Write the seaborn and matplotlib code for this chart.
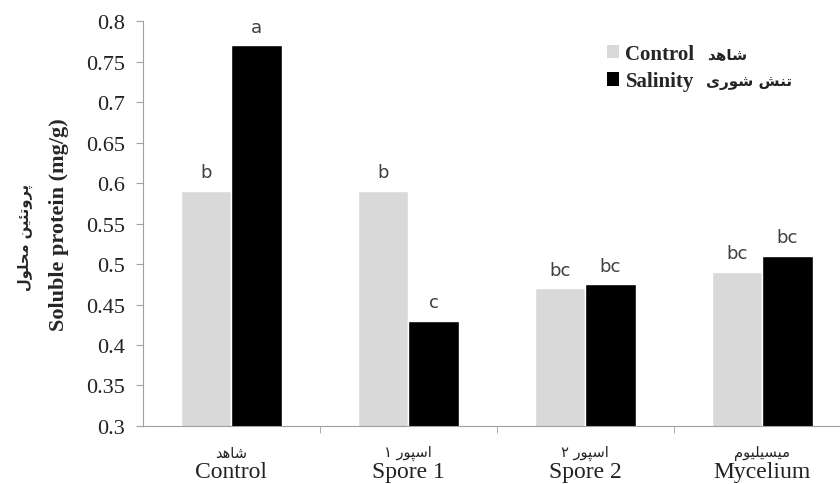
import matplotlib
matplotlib.use("Agg")
import matplotlib.pyplot as plt
from matplotlib.patches import Patch
from matplotlib.ticker import FuncFormatter, FixedLocator
import seaborn as sns
import pandas as pd

# Data
treatments = ['Control', 'Spore 1', 'Spore 2', 'Mycelium']
# Persian labels (pre-shaped presentation forms, visual order)
treatments_fa = ['\uFEAA\uFEEB\uFE8E\uFEB7',
                 '\u06F1 \uFEAD\uFEEE\uFB59\uFEB3\uFE8D',
                 '\u06F2 \uFEAD\uFEEE\uFB59\uFEB3\uFE8D',
                 '\uFEE1\uFEEE\uFEF4\uFEE0\uFEF4\uFEB4\uFEF4\uFEE3']
control_vals = [0.59, 0.59, 0.47, 0.49]
salinity_vals = [0.77, 0.43, 0.475, 0.51]
control_letters = ['b', 'b', 'bc', 'bc']
salinity_letters = ['a', 'c', 'bc', 'bc']
groups = ['Control', 'Salinity']
groups_fa = ['\uFEAA\uFEEB\uFE8E\uFEB7',
             '\uFEEF\uFEAD\uFEEE\uFEB7 \uFEB6\uFEE8\uFE97']
ylabel_fa = '\uFEDD\uFEEE\uFEE0\uFEA4\uFEE3 \uFEE6\uFEF4\uFE8C\uFE97\uFEED\uFEAE\uFB58'

df = pd.DataFrame({
    'Treatment': treatments * 2,
    'Group': ['Control'] * 4 + ['Salinity'] * 4,
    'Protein': control_vals + salinity_vals,
})

sns.set_style("white")
plt.rcParams['font.family'] = ['Liberation Serif', 'DejaVu Sans']

fig = plt.figure(figsize=(8.4, 4.85), dpi=100)
ax = fig.add_axes([0.170, 0.1196, 0.83, 0.835])

colors = ['#d9d9d9', '#000000']
sns.barplot(data=df, x='Treatment', y='Protein', hue='Group', order=treatments,
            hue_order=groups, palette=colors, width=0.57, ax=ax,
            legend=False, saturation=1)

# significance letters
for cont, labs in zip(ax.containers, [control_letters, salinity_letters]):
    ax.bar_label(cont, labels=labs, padding=7, fontsize=13, color='#404040',
                 family='DejaVu Sans')

ax.set_ylim(0.3, 0.8)
ax.set_xlim(-0.5, 3.44)
ax.set_yticks([0.3 + 0.05 * i for i in range(11)])
ax.yaxis.set_major_formatter(FuncFormatter(lambda v, p: '%g' % round(v, 2)))
ax.tick_params(axis='y', labelsize=16, length=5, color='#a0a0a0', left=True,
               direction='out', pad=8, labelcolor='#222222')

# x tick labels: english via ticks, persian above them via text
ax.set_xticks(range(len(treatments)))
ax.set_xticklabels(treatments, fontsize=17, color='#222222')
ax.tick_params(axis='x', length=0, pad=25)
ax.xaxis.set_minor_locator(FixedLocator([0.5, 1.5, 2.5]))
ax.tick_params(axis='x', which='minor', length=5, color='#a0a0a0', bottom=True,
               direction='out')
for i, lab in enumerate(treatments_fa):
    ax.text(i, -0.047, lab, transform=ax.get_xaxis_transform(), ha='center',
            va='top', fontsize=10.5, family='DejaVu Sans', color='#222222')

ax.set_xlabel('')
ax.set_ylabel('Soluble protein (mg/g)', fontsize=16, fontweight='bold', labelpad=12)
fig.text(0.030, 0.51, ylabel_fa, rotation=90, ha='center', va='center',
         fontsize=10.5, family='DejaVu Sans', fontweight='bold')

for s in ['top', 'right']:
    ax.spines[s].set_visible(False)
for s in ['left', 'bottom']:
    ax.spines[s].set_color('#a0a0a0')

handles = [Patch(facecolor=c, edgecolor='none') for c in colors]
leg = ax.legend(handles, groups, loc='upper left', bbox_to_anchor=(0.70, 0.946),
                bbox_transform=fig.transFigure, frameon=False, handlelength=0.6,
                handleheight=0.6, handletextpad=0.3, labelspacing=0.35,
                prop={'family': 'Liberation Serif', 'weight': 'bold', 'size': 15})

# persian part of the legend, placed after each english entry
fig.canvas.draw()
inv = fig.transFigure.inverted()
for t, fa in zip(leg.get_texts(), groups_fa):
    bb = t.get_window_extent()
    x, y = inv.transform((bb.x1 + 12, (bb.y0 + bb.y1) / 2))
    fig.text(x, y, fa, ha='left', va='center', fontsize=11,
             family='DejaVu Sans', fontweight='bold', color='#222222')

fig.savefig('out.png', dpi=100)
